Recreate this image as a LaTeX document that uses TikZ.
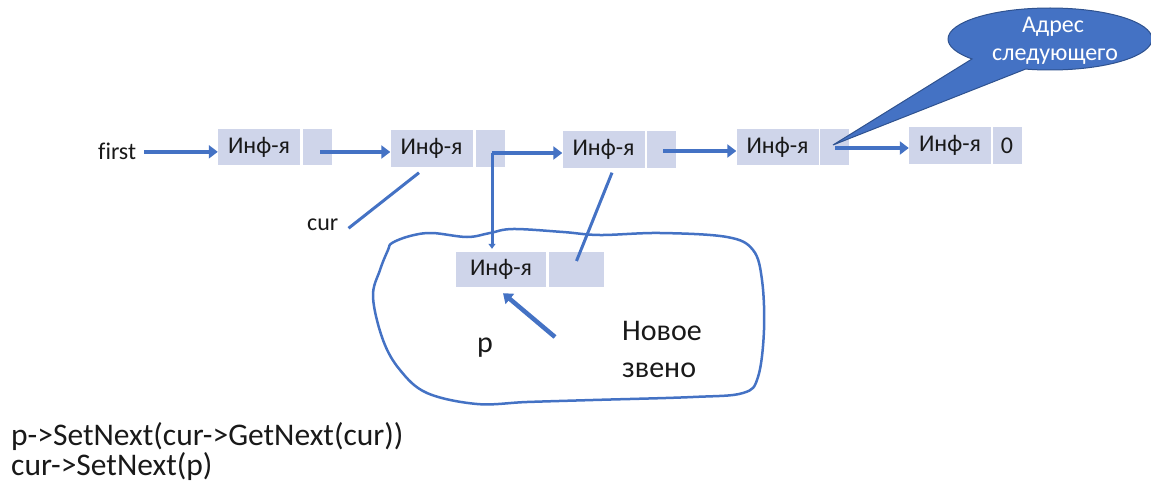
\documentclass[tikz,border=0pt]{standalone}
\usepackage{fontspec}
\setmainfont{Carlito}[Ligatures=NoCommon]
\usetikzlibrary{arrows.meta,shapes.callouts,shapes.geometric}
\definecolor{ablue}{RGB}{68,114,196}
\definecolor{cellfill}{RGB}{207,213,234}
\definecolor{cborder}{RGB}{47,82,143}
\definecolor{txt}{RGB}{25,25,25}
\begin{document}
\begin{tikzpicture}[x=1pt,y=-1pt,
  cell/.style={fill=cellfill, draw=none, minimum height=36pt, inner sep=0pt, font=\fontsize{24}{26}\selectfont, text=txt},
  info/.style={cell, minimum width=82pt},
  ptr/.style={cell, minimum width=29pt},
  arr/.style={draw=ablue, line width=4.5pt, -{Triangle[length=9pt,width=13pt]}},
  smallarr/.style={draw=ablue, line width=3pt, -{Triangle[length=5pt,width=7pt]}},
  thinline/.style={draw=ablue, line width=3pt},
  lbl/.style={font=\fontsize{24}{26}\selectfont, text=txt, inner sep=0pt, anchor=base west},
  big/.style={font=\fontsize{30}{32}\selectfont, text=txt, inner sep=0pt, anchor=base west},
  code/.style={font=\fontsize{31.5}{33}\selectfont, text=txt, inner sep=0pt, anchor=base west},
  ctext/.style={font=\fontsize{24}{26}\selectfont, text=white, inner sep=0pt, anchor=base},
]
\useasboundingbox (0,0) rectangle (1151,484);

% list cells
\node[info] (n1i) at (259,147) {Инф-я};
\node[ptr]  (n1p) at (317.5,147) {};
\node[info] (n2i) at (431.5,148.5) {Инф-я};
\node[ptr]  (n2p) at (490,148.5) {};
\node[info] (n3i) at (603.5,149.5) {Инф-я};
\node[ptr]  (n3p) at (661.5,149.5) {};
\node[info] (n4i) at (777.5,147) {Инф-я};
\node[ptr]  (n4p) at (834,147) {};
\node[info] (n5i) at (950,145.5) {Инф-я};
\node[ptr]  (n5p) at (1007,145.5) {0};

% new node
\node[cell, minimum width=90pt, minimum height=35pt] (newi) at (501,269.5) {Инф-я};
\node[cell, minimum width=55pt, minimum height=35pt] (newp) at (576.5,269.5) {};

% labels
\node[lbl] (first) at (98,160) {first};
\node[lbl] (cur) at (307,230) {cur};
\node[big] (p) at (477,352) {p};
\node[big] (nov1) at (622,340) {Новое};
\node[big] (nov2) at (622,377) {звено};
\node[code] (code1) at (11,445) {p->SetNext(cur->GetNext(cur))};
\node[code] (code2) at (11,475) {cur->SetNext(p)};

% start points inside pointer cells
\coordinate (s1) at (320,152);
\coordinate (s2) at (492,153);
\coordinate (s3) at (663,151);
\coordinate (s4) at (835,148);
\coordinate (pa) at (555,337);

% connectors
\draw[arr, shorten <=8pt] (first.east) -- (n1i.west |- first.east);
\draw[arr] (s1) -- (n2i.west |- s1);
\draw[arr] (s2) -- (n3i.west |- s2);
\draw[smallarr] (s2) -- ([yshift=3pt]newi.north -| s2);
\draw[arr] (s3) -- (n4i.west |- s3);
\draw[arr] (s4) -- (n5i.west |- s4);
\draw[thinline] ([xshift=10pt,yshift=-4pt]cur.east) -- ([xshift=-12.5pt,yshift=-6pt]n2i.south);
\draw[thinline] ([xshift=8.5pt,yshift=-5pt]n3i.south) -- ([yshift=8.5pt]newp.center);
\draw[arr] (pa) -- ([xshift=2pt,yshift=-6pt]newi.south);

% hand-drawn outline
\draw[ablue, line width=2.5pt] plot[smooth cycle, tension=0.6] coordinates {
 (392,243) (410,236) (432,233) (467,237) (490,233) (513,229) (563,232) (600,235)
 (660,233) (727,237) (753,250) (762,280) (764,330) (758,377) (743,393) (693,397)
 (593,400) (527,402) (477,404) (427,393) (400,370) (383,340) (373,297) (380,270) (388,250)};

% callout
\node[ellipse callout, fill=ablue, draw=cborder, line width=1pt, inner sep=0pt,
      minimum width=204pt, minimum height=62pt,
      callout absolute pointer={(833,145)}, callout pointer arc=36] (call) at (1050,39) {};
\node[ctext] (ct1) at (1053,33) {Адрес};
\node[ctext] (ct2) at (1055,61) {следующего};
\end{tikzpicture}
\end{document}
